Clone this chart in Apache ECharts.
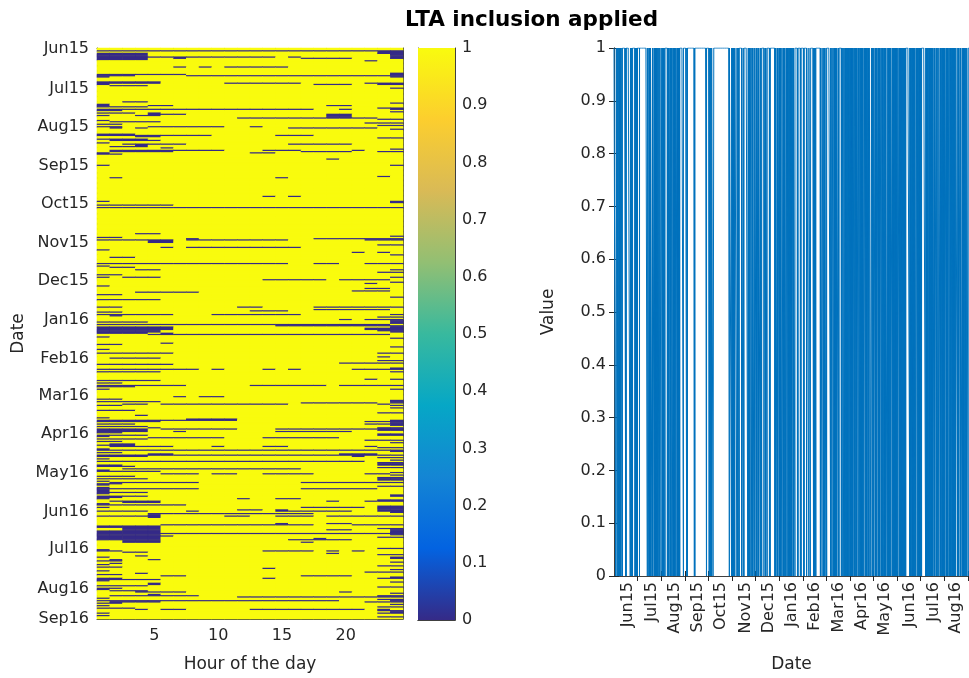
<!DOCTYPE html>
<html>
<head>
<meta charset="utf-8">
<title>LTA inclusion applied</title>
<script src="https://cdn.jsdelivr.net/npm/echarts@6/dist/echarts.min.js"></script>
<style>
  html, body { margin: 0; padding: 0; background: #fff; }
  #chart { width: 969px; height: 678px; }
</style>
</head>
<body>
<div id="chart"></div>
<script>
// hours on the x axis of the heatmap
const hours = Array.from({ length: 24 }, (_, i) => String(i + 1))
const dayCount = 459

// y tick labels of the heatmap (row index -> label)
const yLabelRows = [0, 32, 63, 94, 125, 156, 187, 218, 249, 279, 310, 341, 372, 402, 434, 458]
const yLabelText = ['Jun15', 'Jul15', 'Aug15', 'Sep15', 'Oct15', 'Nov15', 'Dec15', 'Jan16',
  'Feb16', 'Mar16', 'Apr16', 'May16', 'Jun16', 'Jul16', 'Aug16', 'Sep16']

// right plot: label positions (days) and tick positions (days)
const xLabelDays = [18, 48.6, 79.3, 108.7, 138, 170, 200.7, 230, 259.6, 290.3, 321, 350.3, 382.3, 413, 442.4]
const xLabelText = ['Jun15', 'Jul15', 'Aug15', 'Sep15', 'Oct15', 'Nov15', 'Dec15', 'Jan16',
  'Feb16', 'Mar16', 'Apr16', 'May16', 'Jun16', 'Jul16', 'Aug16']
const xTickDays = [30, 61, 92, 122, 153, 183, 214, 245, 274, 305, 335, 366, 396, 427, 458]

// cells that are 0: [fromRow, toRow, fromHour, toHour]
const zeroRuns = [
  [2,2,1,24],[4,9,1,4],[7,7,5,14],[7,7,16,16],[8,8,7,7],[8,8,17,20],[10,10,22,22],[3,4,23,24],[5,8,24,24],
  [15,15,7,7],[15,15,9,9],[15,15,11,15],[21,21,1,7],[22,22,1,3],[23,23,1,1],[22,22,8,23],[20,23,24,24],
  [27,27,1,5],[28,28,1,5],[28,28,11,16],[28,28,22,24],[29,29,1,1],[29,29,18,20],[29,29,23,24],[30,30,2,4],
  [32,32,24,24],[43,43,3,4],[44,44,24,24],[45,45,1,1],[46,46,1,1],[46,46,5,6],[46,46,19,20],[47,47,1,4],
  [48,48,23,24],[49,49,1,17],[49,49,20,20],[49,49,24,24],[50,50,1,2],[51,51,24,24],[52,52,1,3],[52,52,5,5],
  [53,53,5,7],[53,55,19,20],[54,54,1,1],[54,54,4,5],[56,56,12,22],[57,57,23,24],[58,58,1,1],[59,59,2,5],
  [60,60,22,24],[61,61,1,2],[62,62,23,24],[63,63,1,2],[63,63,5,10],[63,63,13,13],[64,64,2,2],[64,64,4,4],
  [64,64,16,22],[65,65,24,24],[69,69,1,3],[70,70,1,9],[70,70,15,17],[71,71,4,5],[72,72,23,24],[73,73,1,4],
  [74,74,2,5],[76,76,1,1],[77,77,3,7],[77,77,16,20],[78,78,4,4],[79,79,2,4],[80,80,6,6],[81,81,24,24],
  [82,82,2,10],[82,82,14,16],[82,82,21,21],[83,83,2,6],[83,83,17,20],[83,83,23,24],[84,84,1,1],[84,84,13,14],
  [85,85,1,2],[89,89,19,19],[94,94,1,1],[94,94,24,24],[103,103,23,23],[104,104,2,2],[104,104,15,15],
  [119,119,14,14],[119,119,16,16],[123,123,1,1],[123,124,24,24],[126,126,1,6],[128,128,1,24],[149,149,4,5],
  [151,151,24,24],[152,152,1,2],[153,153,8,8],[153,153,18,24],[154,154,1,6],[154,154,8,15],[154,154,22,24],
  [155,156,5,6],[158,158,23,24],[160,160,6,6],[160,160,8,16],[162,162,1,1],[164,164,21,21],[164,164,23,23],
  [166,166,24,24],[168,168,2,3],[173,173,1,15],[173,173,18,19],[173,173,22,24],[175,175,1,1],[176,176,2,3],
  [178,178,4,5],[178,178,24,24],[180,180,23,24],[182,182,1,2],[184,184,1,1],[184,184,3,5],[184,184,24,24],
  [186,186,14,18],[186,186,20,23],[188,188,24,24],[189,189,22,22],[191,191,1,1],[193,193,22,23],
  [195,195,21,23],[196,196,4,8],[198,198,1,2],[200,200,24,24],[202,202,1,5],[208,208,1,2],[208,208,12,13],
  [208,208,18,24],[210,210,18,23],[211,211,13,15],[212,212,1,2],[214,214,1,6],[214,214,10,16],[214,214,24,24],
  [215,215,2,2],[216,216,23,24],[218,218,20,20],[218,218,22,24],[219,221,24,24],[220,220,1,4],[222,222,1,23],
  [223,223,15,24],[224,228,1,5],[224,226,6,6],[224,228,24,24],[225,225,22,23],
  [226,226,22,23],[227,227,23,23],[229,229,1,4],[229,229,6,6],[230,230,5,23],[232,232,1,1],[233,233,24,24],
  [237,237,6,6],[238,238,1,2],[240,240,24,24],[242,242,1,1],[245,245,1,6],[245,245,23,24],[248,248,23,23],
  [249,249,2,5],[251,251,23,24],[253,253,20,24],[254,254,1,6],[257,257,24,24],[258,258,1,8],[258,258,10,10],
  [258,258,14,14],[258,258,16,16],[258,258,21,24],[260,260,1,5],[260,260,24,24],[266,266,22,22],
  [266,266,24,24],[267,267,1,5],[269,269,1,2],[271,271,1,7],[271,271,13,18],[271,271,20,24],[272,272,1,3],
  [274,274,1,1],[274,274,24,24],[280,280,7,7],[280,280,9,10],[282,282,1,2],[283,285,24,24],[284,284,1,5],
  [285,285,17,22],[286,286,3,4],[286,286,6,15],[286,286,23,23],[287,287,1,2],[287,287,24,24],[289,289,24,24],
  [291,291,1,3],[293,293,23,24],[295,295,4,4],[297,297,1,1],
  [298,298,8,11],[299,299,1,11],[299,299,24,24],[300,300,1,5],[300,300,22,24],[301,301,24,24],[302,302,1,3],
  [302,302,22,24],[303,303,24,24],[304,304,1,4],[305,305,5,5],[305,307,23,24],[306,308,1,4],[306,306,6,11],
  [306,306,15,22],[308,308,7,7],[308,308,15,20],[309,309,1,2],[310,310,23,24],[311,311,1,4],[311,311,23,24],
  [312,312,1,1],[313,313,5,10],[313,313,14,19],[314,314,1,4],[315,315,22,24],[316,316,1,2],[317,317,24,24],
  [318,318,2,3],[319,319,1,3],[320,320,2,6],[320,320,10,10],[320,320,14,15],[320,320,22,22],[321,321,23,24],
  [322,322,1,1],[323,323,1,24],[324,324,24,24],[325,325,1,2],[326,326,5,6],[326,326,20,22],[327,327,1,24],
  [328,328,1,4],[328,328,21,21],[329,329,23,24],[330,330,1,1],[331,331,24,24],[332,332,1,21],[333,335,23,24],
  [335,335,1,2],[336,336,1,3],[337,337,23,24],[338,338,3,16],[339,339,1,1],[340,340,1,5],[341,341,24,24],
  [342,342,6,8],[342,342,10,11],[342,342,14,17],[342,342,22,23],[343,343,24,24],[344,344,1,3],[345,347,23,24],
  [346,346,1,4],[348,348,1,1],[349,349,2,8],[349,349,17,24],[350,350,1,2],[351,351,1,1],[352,352,23,24],
  [353,356,1,1],[354,354,2,8],[354,354,17,22],[357,357,1,4],[358,358,1,1],[359,359,24,24],[360,360,1,4],
  [360,360,24,24],[361,361,1,2],[362,362,1,1],[362,362,12,12],[362,362,15,16],[363,363,23,24],[364,364,2,5],
  [364,364,19,19],[364,364,22,24],[365,365,3,5],[366,366,1,1],[367,367,1,7],[368,372,23,24],[369,369,1,1],
  [369,369,17,21],[371,371,12,13],[371,371,15,15],[372,372,1,4],[372,372,8,8],[372,372,15,20],[373,373,24,24],
  [374,374,5,17],[375,377,5,5],[376,376,1,4],[376,376,11,12],[376,376,15,17],[376,376,19,24],
  [382,382,15,15],[382,382,19,20],[383,383,6,17],[383,383,21,24],[384,397,3,5],[384,384,1,2],[385,385,1,2],
  [388,395,1,2],[386,386,23,23],[386,391,24,24],[387,387,19,20],[390,390,6,23],[392,392,6,6],[393,393,23,24],
  [394,394,18,18],[395,395,16,20],[397,397,17,17],[402,402,23,24],[403,403,1,1],[404,404,1,2],[404,404,14,17],
  [404,404,19,19],[404,404,21,21],[405,405,3,4],[406,406,19,19],[407,407,23,24],[408,408,4,4],[409,409,1,1],
  [409,410,24,24],[411,411,2,2],[411,411,5,5],[412,412,1,2],[413,413,24,24],[414,414,2,2],[415,415,1,1],
  [416,416,23,24],[417,417,1,2],[418,418,14,14],[419,419,24,24],[420,420,1,1],[421,421,22,24],[422,422,4,4],
  [423,423,1,2],[424,424,6,7],[424,424,17,20],[425,425,24,24],[426,426,1,2],[426,426,14,14],[426,426,23,24],
  [427,427,1,5],[428,428,1,1],[429,429,24,24],[430,431,5,5],[432,432,1,4],[433,433,23,24],[434,434,1,2],
  [435,435,1,1],[436,436,2,4],[437,437,4,7],[437,437,20,20],[438,438,24,24],[439,439,5,5],[440,440,2,8],
  [440,440,23,24],[441,441,12,24],[442,442,1,1],[443,443,23,24],[444,444,1,19],[444,444,24,24],[445,445,2,5],
  [445,445,22,24],[446,446,1,2],[447,447,24,24],[448,448,1,1],[449,449,23,24],[450,450,1,3],[451,451,4,4],
  [451,451,6,7],[451,451,13,21],[451,451,23,23],[452,452,23,24],[453,453,24,24],[454,454,1,1],[454,454,23,24],
  [456,456,1,1],[457,457,23,24]
]

const parula = ['#352a87', '#0363e1', '#1485d4', '#06a7c6', '#38b99e', '#92bf73', '#d9ba56', '#fcce2e', '#f9fb0e']
const textColor = '#262626'
const boxColor = '#404040'
const font = 'DejaVu Sans'

// build the day x hour grid
const grid = []
for (let r = 0; r < dayCount; r++) grid.push(new Array(24).fill(1))
zeroRuns.forEach(([r0, r1, h0, h1]) => {
  for (let r = r0; r <= r1; r++) {
    for (let h = h0; h <= h1; h++) grid[r][h - 1] = 0
  }
})

const heatData = []
const lineData = []
for (let r = 0; r < dayCount; r++) {
  for (let h = 0; h < 24; h++) {
    heatData.push([h, r, grid[r][h]])
    lineData.push([r + (h + 0.5) / 24, grid[r][h]])
  }
}

const rows = Array.from({ length: dayCount }, (_, i) => String(i))
const labelOfRow = {}
yLabelRows.forEach((r, i) => { labelOfRow[r] = yLabelText[i] })
const labelOfDay = {}
xLabelDays.forEach((d, i) => { labelOfDay[d] = xLabelText[i] })

const isLabelRow = (idx) => labelOfRow[idx] !== undefined
const isHourTick = (idx) => (idx + 1) % 5 === 0

const lbl = { color: textColor, fontSize: 16, fontFamily: font }
const nameStyle = { color: textColor, fontSize: 17, fontFamily: font }
const line = { show: true, lineStyle: { color: boxColor, width: 1 } }

const chart = echarts.init(document.getElementById('chart'))

chart.setOption({
  animation: false,
  backgroundColor: '#fff',
  title: {
    text: 'LTA inclusion applied',
    left: 405,
    top: 9,
    padding: 0,
    textStyle: { fontFamily: font, fontWeight: 'bold', fontSize: 21.5, color: '#000' }
  },
  grid: [
    { left: 97, top: 48, width: 306, height: 572, show: true, backgroundColor: '#f9fb0e', borderWidth: 0 },
    { left: 418, top: 48, width: 37, height: 572 },
    { left: 614, top: 48, width: 359, height: 529 }
  ],
  visualMap: {
    show: false,
    seriesIndex: 0,
    dimension: 2,
    min: 0,
    max: 1,
    inRange: { color: parula }
  },
  xAxis: [
    {
      type: 'category', gridIndex: 0, position: 'bottom', data: hours,
      axisLine: line,
      axisTick: { inside: true, length: 5, alignWithLabel: true, interval: isHourTick, lineStyle: { color: textColor } },
      axisLabel: { ...lbl, interval: isHourTick, margin: 9 },
      name: 'Hour of the day', nameLocation: 'middle', nameGap: 37, nameTextStyle: nameStyle
    },
    {
      type: 'category', gridIndex: 0, position: 'top', data: hours,
      axisLine: line,
      axisTick: { inside: true, length: 5, alignWithLabel: true, interval: isHourTick, lineStyle: { color: textColor } },
      axisLabel: { show: false }
    },
    { type: 'category', gridIndex: 1, position: 'bottom', data: ['c'], axisLine: line, axisTick: { show: false }, axisLabel: { show: false } },
    { type: 'category', gridIndex: 1, position: 'top', data: ['c'], axisLine: line, axisTick: { show: false }, axisLabel: { show: false } },
    {
      type: 'value', gridIndex: 2, position: 'bottom', min: 0, max: dayCount,
      axisLine: line,
      splitLine: { show: false },
      axisTick: { inside: true, length: 5, customValues: xTickDays, lineStyle: { color: textColor } },
      axisLabel: { ...lbl, customValues: xLabelDays, rotate: 90, margin: 6, formatter: (v) => labelOfDay[v] || '' },
      name: 'Date', nameLocation: 'middle', nameGap: 80, nameTextStyle: nameStyle
    },
    {
      type: 'value', gridIndex: 2, position: 'top', min: 0, max: dayCount,
      axisLine: line,
      splitLine: { show: false },
      axisTick: { inside: true, length: 5, customValues: xTickDays, lineStyle: { color: textColor } },
      axisLabel: { show: false }
    }
  ],
  yAxis: [
    {
      type: 'category', gridIndex: 0, position: 'left', inverse: true, data: rows,
      axisLine: line,
      axisTick: { inside: true, length: 4, alignWithLabel: true, interval: isLabelRow, lineStyle: { color: textColor } },
      axisLabel: { ...lbl, interval: isLabelRow, margin: 8, formatter: (v, i) => labelOfRow[i] || '' },
      name: 'Date', nameLocation: 'middle', nameGap: 70, nameTextStyle: nameStyle
    },
    {
      type: 'category', gridIndex: 0, position: 'right', inverse: true, data: rows,
      axisLine: line, axisTick: { show: false }, axisLabel: { show: false }
    },
    {
      type: 'value', gridIndex: 1, position: 'right', min: 0, max: 1, interval: 0.1,
      axisLine: line, splitLine: { show: false },
      axisTick: { inside: true, length: 6, lineStyle: { color: textColor } },
      axisLabel: { ...lbl, margin: 7 }
    },
    {
      type: 'value', gridIndex: 1, position: 'left', min: 0, max: 1, interval: 0.1,
      axisLine: line, splitLine: { show: false }, axisTick: { show: false }, axisLabel: { show: false }
    },
    {
      type: 'value', gridIndex: 2, position: 'left', min: 0, max: 1, interval: 0.1,
      axisLine: line, splitLine: { show: false },
      axisTick: { inside: true, length: 5, lineStyle: { color: textColor } },
      axisLabel: { ...lbl, margin: 8 },
      name: 'Value', nameLocation: 'middle', nameGap: 57, nameTextStyle: nameStyle
    },
    {
      type: 'value', gridIndex: 2, position: 'right', min: 0, max: 1, interval: 0.1,
      axisLine: line, splitLine: { show: false },
      axisTick: { inside: true, length: 5, lineStyle: { color: textColor } },
      axisLabel: { show: false }
    }
  ],
  series: [
    {
      type: 'heatmap',
      xAxisIndex: 0,
      yAxisIndex: 0,
      data: heatData,
      progressive: 0,
      emphasis: { disabled: true },
      itemStyle: { borderWidth: 0 }
    },
    {
      type: 'bar',
      xAxisIndex: 2,
      yAxisIndex: 2,
      data: [1],
      barWidth: '100%',
      silent: true,
      itemStyle: {
        color: new echarts.graphic.LinearGradient(0, 1, 0, 0,
          parula.map((c, i) => ({ offset: i / (parula.length - 1), color: c })))
      }
    },
    {
      type: 'line',
      xAxisIndex: 4,
      yAxisIndex: 4,
      data: lineData,
      showSymbol: false,
      symbol: 'none',
      silent: true,
      lineStyle: { color: '#0072bd', width: 1 }
    }
  ]
})
</script>
</body>
</html>
